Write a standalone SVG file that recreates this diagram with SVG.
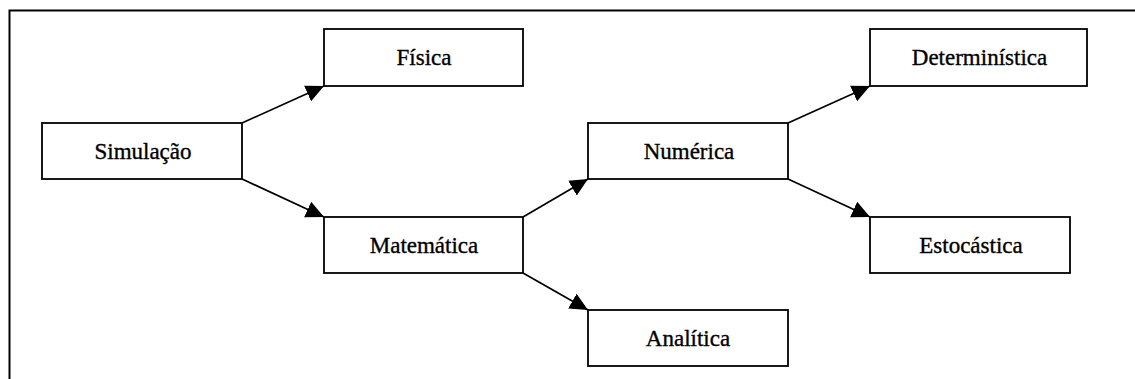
<svg xmlns="http://www.w3.org/2000/svg" width="1135" height="379" viewBox="0 0 1135 379">
  <style>
    .box { fill: #ffffff; stroke: #000000; stroke-width: 1.8; }
    .lbl { font-family: "Liberation Serif", "Times New Roman", serif; font-size: 23px; fill: #000000; stroke: #000000; stroke-width: 0.35; text-anchor: middle; }
    .edge { stroke: #000000; stroke-width: 1.7; fill: none; marker-end: url(#head); }
  </style>
  <defs>
    <marker id="head" markerUnits="userSpaceOnUse" markerWidth="20" markerHeight="20" viewBox="0 0 20 20" refX="18" refY="10" orient="auto">
      <path d="M0,1.5 L18,10 L0,18.5 Z" fill="#000000"/>
    </marker>
  </defs>
  <rect width="1135" height="379" fill="#ffffff"/>
  <!-- outer frame: top and left sides only -->
  <path d="M9.5,379 L9.5,10.5 L1135,10.5" fill="none" stroke="#000000" stroke-width="2"/>

  <g id="connectors">
    <line class="edge" x1="242" y1="123" x2="324" y2="86"/>
    <line class="edge" x1="242" y1="179" x2="324" y2="217"/>
    <line class="edge" x1="523" y1="217" x2="588" y2="179"/>
    <line class="edge" x1="523" y1="273" x2="588" y2="310"/>
    <line class="edge" x1="788" y1="123" x2="870" y2="86"/>
    <line class="edge" x1="788" y1="179" x2="870" y2="217"/>
  </g>

  <g id="simulacao">
    <rect class="box" x="42" y="123" width="200" height="56"/>
    <text class="lbl" x="143" y="159">Simulação</text>
  </g>
  <g id="fisica">
    <rect class="box" x="324" y="29" width="199" height="57"/>
    <text class="lbl" x="424" y="65">Física</text>
  </g>
  <g id="matematica">
    <rect class="box" x="324" y="217" width="199" height="56"/>
    <text class="lbl" x="424" y="253">Matemática</text>
  </g>
  <g id="numerica">
    <rect class="box" x="588" y="123" width="200" height="56"/>
    <text class="lbl" x="689" y="158.5">Numérica</text>
  </g>
  <g id="analitica">
    <rect class="box" x="588" y="310" width="200" height="56"/>
    <text class="lbl" x="688" y="346">Analítica</text>
  </g>
  <g id="deterministica">
    <rect class="box" x="870" y="29" width="217" height="57"/>
    <text class="lbl" x="979.5" y="65">Determinística</text>
  </g>
  <g id="estocastica">
    <rect class="box" x="870" y="217" width="200" height="56"/>
    <text class="lbl" x="971" y="253">Estocástica</text>
  </g>
</svg>
